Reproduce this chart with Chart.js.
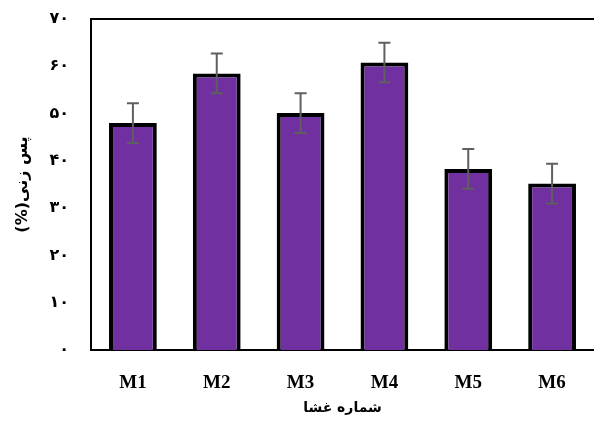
<!DOCTYPE html>
<html>
<head>
<meta charset="utf-8">
<script src="https://cdn.jsdelivr.net/npm/chart.js@4/dist/chart.umd.min.js"></script>
<style>
  html, body { margin: 0; padding: 0; background: #fff; }
  #wrap { width: 594px; height: 423px; }
</style>
</head>
<body>
<div id="wrap"><canvas id="graphique"></canvas></div>
<script>
const membranes = ['M1', 'M2', 'M3', 'M4', 'M5', 'M6'];
const rejet = [48.0, 58.5, 50.1, 60.8, 38.3, 35.2];
const erreurs = [4.2, 4.2, 4.2, 4.2, 4.2, 4.2];
const yTickLabels = ['۰', '۱۰', '۲۰', '۳۰', '۴۰', '۵۰', '۶۰', '۷۰'];

const serif = "'Liberation Serif', 'DejaVu Sans', serif";

// barres d'erreur + ligne du haut
const errorBars = {
  id: 'errorBars',
  afterDatasetsDraw(chart) {
    const ctx = chart.ctx;
    const y = chart.scales.y;
    const meta = chart.getDatasetMeta(0);
    ctx.save();
    ctx.strokeStyle = '#5f5f5f';
    ctx.lineWidth = 2;
    meta.data.forEach((bar, i) => {
      const top = y.getPixelForValue(rejet[i] + erreurs[i]);
      const bottom = y.getPixelForValue(rejet[i] - erreurs[i]);
      ctx.beginPath();
      ctx.moveTo(bar.x, top);
      ctx.lineTo(bar.x, bottom);
      ctx.moveTo(bar.x - 6, top);
      ctx.lineTo(bar.x + 6, top);
      ctx.moveTo(bar.x - 6, bottom);
      ctx.lineTo(bar.x + 6, bottom);
      ctx.stroke();
    });
    const area = chart.chartArea;
    ctx.strokeStyle = '#000';
    ctx.lineWidth = 2;
    ctx.beginPath();
    ctx.moveTo(area.left, area.top);
    ctx.lineTo(area.right, area.top);
    ctx.stroke();
    ctx.restore();
  }
};

const ctx = document.getElementById('graphique').getContext('2d');
new Chart(ctx, {
  type: 'bar',
  data: {
    labels: membranes,
    datasets: [{
      data: rejet,
      backgroundColor: '#7030a0',
      borderColor: '#000',
      borderWidth: 4,
      barPercentage: 0.57,
      categoryPercentage: 1
    }]
  },
  options: {
    responsive: true,
    maintainAspectRatio: false,
    animation: false,
    layout: { padding: { top: 19, right: 0, bottom: 0, left: 0 } },
    plugins: { legend: { display: false }, tooltip: { enabled: false } },
    scales: {
      x: {
        grid: { display: false, drawTicks: false },
        border: { display: true, color: '#000', width: 2 },
        ticks: { color: '#000', padding: 22, font: { family: serif, size: 19, weight: 'bold' } },
        title: {
          display: true,
          text: 'شماره غشا',
          color: '#000',
          font: { family: "'DejaVu Sans', sans-serif", size: 14, weight: 'bold' },
          padding: { top: 0, bottom: 6 }
        },
        afterFit(scale) { scale.height = 73; }
      },
      y: {
        min: 0,
        max: 70,
        grid: { display: false, drawTicks: false },
        border: { display: true, color: '#000', width: 2 },
        ticks: {
          stepSize: 10,
          color: '#000',
          padding: 22,
          font: { family: "'DejaVu Sans', sans-serif", size: 16, weight: 'bold' },
          callback: (v) => yTickLabels[v / 10]
        },
        title: {
          display: true,
          text: 'پس زنی(%)\u200F',
          color: '#000',
          font: { family: "'DejaVu Sans', sans-serif", size: 16, weight: 'bold' },
          padding: { top: 13, bottom: 0 }
        },
        afterFit(scale) {
          scale.width = 91;
          scale.paddingTop = 0;
        }
      }
    }
  },
  plugins: [errorBars]
});
</script>
</body>
</html>
